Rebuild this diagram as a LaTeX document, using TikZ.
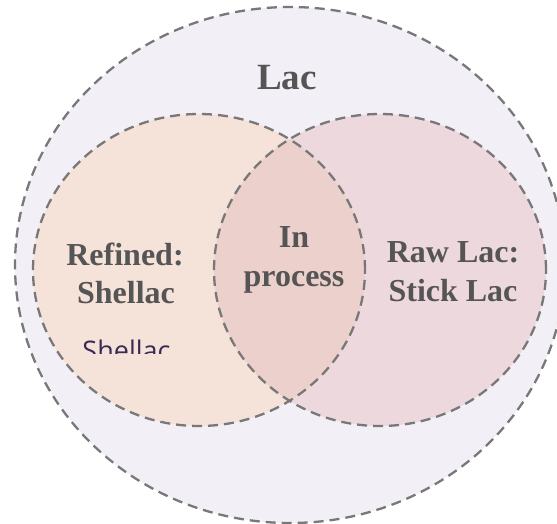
\documentclass[tikz,border=0pt]{standalone}
\usepackage{fontspec}
\setmainfont{Liberation Serif}
\newfontfamily\notesans{Open Sans}
\definecolor{outerfill}{HTML}{F2F0F6}
\definecolor{leftfill}{HTML}{F5E3DA}
\definecolor{rightfill}{HTML}{EDD9DD}
\definecolor{bothfill}{HTML}{ECD0CB}
\definecolor{dashgray}{HTML}{787878}
\definecolor{labelgray}{HTML}{555555}
\definecolor{notepurple}{HTML}{3A2B55}
\begin{document}
\begin{tikzpicture}[x=1pt,y=-1pt,
  region/.style={draw=dashgray, line width=2.3pt, dash pattern=on 10pt off 6pt},
  setlabel/.style={font=\fontsize{32}{38}\selectfont\bfseries, text=labelgray, inner sep=0pt, anchor=base},
  toplabel/.style={setlabel, font=\fontsize{37}{44}\selectfont\bfseries},
  notelabel/.style={font=\notesans\fontsize{27}{32}\selectfont, text=notepurple, inner sep=0pt, anchor=base}]
  \useasboundingbox (0,0) rectangle (557,523);
  \clip (0,0) rectangle (557,523);

  % the three sets
  \coordinate (lacc) at (290,265);
  \coordinate (refc) at (199,270);
  \coordinate (rawc) at (380,270);

  \fill[outerfill] (lacc) ellipse [x radius=275pt, y radius=258pt];
  \fill[leftfill] (refc) ellipse [x radius=166pt, y radius=156pt];
  \fill[rightfill] (rawc) ellipse [x radius=166pt, y radius=156pt];
  \begin{scope}
    \clip (refc) ellipse [x radius=166pt, y radius=156pt];
    \fill[bothfill] (rawc) ellipse [x radius=166pt, y radius=156pt];
  \end{scope}

  \draw[region] (lacc) ellipse [x radius=275pt, y radius=258pt];
  \draw[region] (refc) ellipse [x radius=166pt, y radius=156pt];
  \draw[region] (rawc) ellipse [x radius=166pt, y radius=156pt];

  % labels
  \node[toplabel] (lac) at (287,89) {Lac};
  \node[setlabel] (refined) at (125,265) {Refined:};
  \node[setlabel] (refinedname) at (126,303) {Shellac};
  \node[setlabel] (in) at (294,247) {In};
  \node[setlabel] (process) at (294,286) {process};
  \node[setlabel] (raw) at (453,262) {Raw Lac:};
  \node[setlabel] (rawname) at (453,301) {Stick Lac};

  % note text, cut off below its first half
  \begin{scope}
    \clip (0,0) rectangle (557,353);
    \node[notelabel] (note) at (126.5,360) {Shellac};
  \end{scope}
\end{tikzpicture}
\end{document}
